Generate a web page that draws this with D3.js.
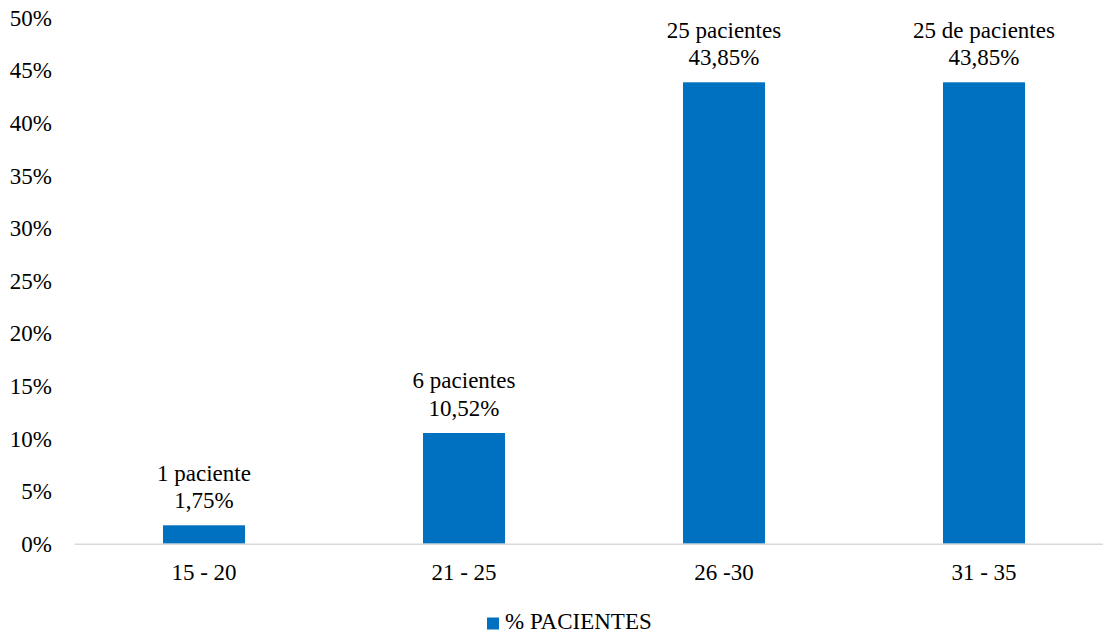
<!DOCTYPE html>
<html>
<head>
<meta charset="utf-8">
<script src="https://cdn.jsdelivr.net/npm/d3@7/dist/d3.min.js"></script>
<style>
  html, body { margin: 0; padding: 0; background: #fff; }
  #wrap { position: relative; width: 1103px; height: 634px; overflow: hidden; }
  #wrap svg, #labels { position: absolute; left: 0; top: 0; }
  #labels { width: 1103px; height: 634px; }
  .lbl {
    position: absolute;
    white-space: nowrap;
    font-family: "Liberation Serif";
    font-size: 30px;
    line-height: 30px;
    color: #000;
  }
</style>
</head>
<body>
<div id="wrap">
  <svg id="chart" width="1103" height="634"></svg>
  <div id="labels"></div>
</div>
<script>
// Age groups and share of patients in each
const categories = ["15 - 20", "21 - 25", "26 -30", "31 - 35"];
const values = [1.75, 10.52, 43.85, 43.85];
const countLabels = ["1 paciente", "6 pacientes", "25 pacientes", "25 de pacientes"];
const valueLabels = ["1,75%", "10,52%", "43,85%", "43,85%"];
const yTicks = [0, 5, 10, 15, 20, 25, 30, 35, 40, 45, 50];
const seriesName = "% PACIENTES";

const barColor = "#0070C0";
const fontSize = 23;            // visual text size in px
const baseSize = 30;            // size the glyphs are laid out at
const textScale = fontSize / baseSize;
const baselineOffset = 25.1;    // baseline position inside a 30px line box

const svg = d3.select("#chart");
const layer = d3.select("#labels");

const x = d3.scaleBand()
  .domain(categories)
  .range([74, 1114])
  .paddingInner(0.6846)
  .paddingOuter(0.3423);

const y = d3.scaleLinear()
  .domain([0, 50])
  .range([543.7, 17.6]);

// Places a text label with its baseline at (px, py); anchor: start | middle | end
function label(text, px, py, anchor) {
  const frac = anchor === "middle" ? 50 : anchor === "end" ? 100 : 0;
  layer.append("div")
    .attr("class", "lbl")
    .style("left", px + "px")
    .style("top", (py - baselineOffset) + "px")
    .style("transform-origin", `${frac}% ${baselineOffset}px`)
    .style("transform", `translate(-${frac}%, 0) scale(${textScale})`)
    .text(text);
}

// Bars
svg.append("g").selectAll("rect")
  .data(values)
  .join("rect")
  .attr("x", (d, i) => x(categories[i]))
  .attr("width", x.bandwidth())
  .attr("y", d => y(d))
  .attr("height", d => y(0) - y(d))
  .attr("fill", barColor);

// Category axis: light baseline, labels below
const xAxis = svg.append("g")
  .attr("transform", `translate(0,${y(0)})`)
  .call(d3.axisBottom(x).tickSize(0).tickFormat(""));
xAxis.select(".domain")
  .attr("stroke", "#d9d9d9")
  .attr("stroke-width", 1.5);
xAxis.selectAll(".tick").remove();
x.domain().forEach(c => label(c, x(c) + x.bandwidth() / 2, y(0) + 36, "middle"));

// Value axis labels (no line, no tick marks)
yTicks.forEach(t => label(t + "%", 52, y(t) + 8.3, "end"));

// Data labels: two lines above each bar
values.forEach((v, i) => {
  const cx = x(categories[i]) + x.bandwidth() / 2;
  label(countLabels[i], cx, y(v) - 44.5, "middle");
  label(valueLabels[i], cx, y(v) - 17, "middle");
});

// Legend
svg.append("rect")
  .attr("x", 487)
  .attr("y", 617.5)
  .attr("width", 12)
  .attr("height", 12)
  .attr("fill", barColor);
label(seriesName, 505, 629.5, "start");
</script>
</body>
</html>
